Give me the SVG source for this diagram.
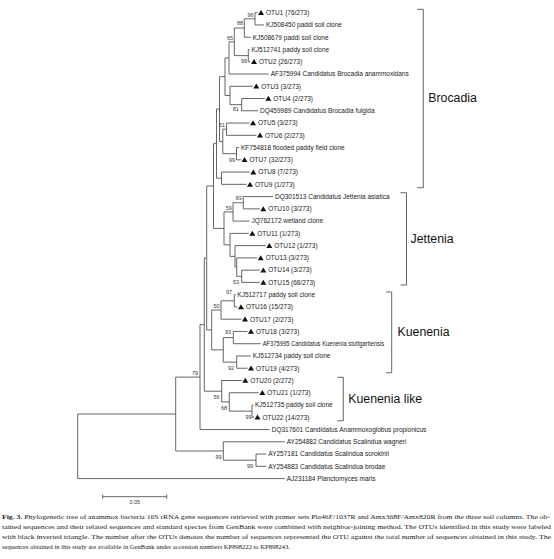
<svg xmlns="http://www.w3.org/2000/svg" width="554" height="559" viewBox="0 0 554 559">
<style>
.br{fill:none;stroke:#555;stroke-width:0.9}
.lf{font-family:"Liberation Sans",Arial,sans-serif;font-size:6.5px;fill:#222}
.bs{font-family:"Liberation Sans",Arial,sans-serif;font-size:5.4px;fill:#333;text-anchor:end}
.cl{font-family:"Liberation Sans",Arial,sans-serif;font-size:12.3px;fill:#111}
.cap{font-family:"Liberation Serif","Times New Roman",serif;font-size:6.7px;fill:#222}
.tri{fill:#111}
</style>
<defs>
<path id="tri" d="M0 -2.7 L3 2.3 L-3 2.3 Z"/>
</defs>
<rect width="554" height="559" fill="#fff"/>
<g id="connectors" class="br">
<path d="M257.5 12.70 H255 V24.96 H264"/>
<path d="M255 18.83 H244.3 V37.22 H250.7"/>
<path d="M249.5 49.48 H248.3 V61.74 H250.5"/>
<path d="M244.3 28.03 H234.3 V55.61 H248.3"/>
<path d="M234.3 41.82 H229 V74.00 H268.7"/>
<path d="M264.8 98.52 H241.7 V110.78 H258"/>
<path d="M252.8 86.26 H230 V104.65 H241.7"/>
<path d="M229 57.91 H225 V95.46 H230"/>
<path d="M249.5 123.04 H226.5 V135.30 H256.5"/>
<path d="M239 147.56 H236.5 V159.82 H241"/>
<path d="M226.5 129.17 H222.8 V153.69 H236.5"/>
<path d="M225 76.69 H219.5 V141.43 H222.8"/>
<path d="M249.8 172.08 H221.5 V184.34 H246.5"/>
<path d="M219.5 109.06 H216.5 V178.21 H221.5"/>
<path d="M273 196.60 H243.3 V208.86 H259.8"/>
<path d="M243.3 202.73 H233 V221.12 H249.5"/>
<path d="M259.8 270.16 H241.7 V282.42 H259.8"/>
<path d="M257.2 257.90 H236.7 V276.29 H241.7"/>
<path d="M265.8 245.64 H235 V267.10 H236.7"/>
<path d="M248.8 233.38 H230 V256.37 H235"/>
<path d="M233 211.93 H224 V244.88 H230"/>
<path d="M216.5 143.64 H213.5 V228.41 H224"/>
<path d="M235.8 294.68 H234.3 V306.94 H237.5"/>
<path d="M234.3 300.81 H221 V319.20 H241.5"/>
<path d="M247.5 331.46 H233.3 V343.72 H260.7"/>
<path d="M250.7 355.98 H236.7 V368.24 H247.5"/>
<path d="M233.3 337.59 H223.3 V362.11 H236.7"/>
<path d="M221 310.01 H211.7 V349.85 H223.3"/>
<path d="M213.5 186.03 H206.7 V329.93 H211.7"/>
<path d="M253.3 405.02 H252 V417.28 H254"/>
<path d="M258.8 392.76 H229.3 V411.15 H252"/>
<path d="M241.8 380.50 H221.7 V401.96 H229.3"/>
<path d="M206.7 257.98 H204.3 V391.23 H221.7"/>
<path d="M204.3 324.61 H200 V429.54 H269.7"/>
<path d="M266.3 454.06 H256 V466.32 H266.3"/>
<path d="M284.7 441.80 H223.3 V460.19 H256"/>
<path d="M200 377.08 H175.7 V451.00 H223.3"/>
<path d="M175.7 414.04 H77.7 V478.58 H284.7"/>
</g>
<g id="bootstrap">
<text class="bs" x="253.5" y="17">96</text>
<text class="bs" x="243" y="25">88</text>
<text class="bs" x="233" y="39.7">65</text>
<text class="bs" x="247" y="63">99</text>
<text class="bs" x="238.8" y="111.3">81</text>
<text class="bs" x="225" y="127">51</text>
<text class="bs" x="235" y="161.5">99</text>
<text class="bs" x="241.7" y="200.3">83</text>
<text class="bs" x="231.7" y="209.7">59</text>
<text class="bs" x="239" y="283.7">53</text>
<text class="bs" x="232" y="294.3">97</text>
<text class="bs" x="219.5" y="307.5">50</text>
<text class="bs" x="231" y="334">93</text>
<text class="bs" x="234" y="369.7">92</text>
<text class="bs" x="198" y="375.3">79</text>
<text class="bs" x="219.5" y="398.7">56</text>
<text class="bs" x="227" y="410.3">68</text>
<text class="bs" x="251.5" y="419.3">99</text>
<text class="bs" x="221.5" y="458.7">99</text>
<text class="bs" x="253" y="468">99</text>
</g>
<g id="leaf-otu1"><use href="#tri" class="tri" x="261" y="12.70"/><text class="lf" x="266" y="15.0">OTU1 (76/273)</text></g>
<g id="leaf-kj508450"><text class="lf" x="266" y="27.26">KJ508450 paddi soil clone</text></g>
<g id="leaf-kj508679"><text class="lf" x="252.7" y="39.52">KJ508679 paddi soil clone</text></g>
<g id="leaf-kj512741"><text class="lf" x="251.5" y="51.78">KJ512741 paddy soil clone</text></g>
<g id="leaf-otu2"><use href="#tri" class="tri" x="254" y="61.74"/><text class="lf" x="259" y="64.04">OTU2 (26/273)</text></g>
<g id="leaf-af375994"><text class="lf" x="270.7" y="76.30">AF375994 Candidatus Brocadia anammoxidans</text></g>
<g id="leaf-otu3"><use href="#tri" class="tri" x="256.3" y="86.26"/><text class="lf" x="261.3" y="88.56">OTU3 (3/273)</text></g>
<g id="leaf-otu4"><use href="#tri" class="tri" x="268.3" y="98.52"/><text class="lf" x="273.3" y="100.82">OTU4 (2/273)</text></g>
<g id="leaf-dq459989"><text class="lf" x="260" y="113.08">DQ459989 Candidatus Brocadia fulgida</text></g>
<g id="leaf-otu5"><use href="#tri" class="tri" x="253" y="123.04"/><text class="lf" x="258" y="125.34">OTU5 (3/273)</text></g>
<g id="leaf-otu6"><use href="#tri" class="tri" x="260" y="135.30"/><text class="lf" x="265" y="137.60">OTU6 (2/273)</text></g>
<g id="leaf-kf754818"><text class="lf" x="241" y="149.86">KF754818 flooded paddy field clone</text></g>
<g id="leaf-otu7"><use href="#tri" class="tri" x="244.5" y="159.82"/><text class="lf" x="249.5" y="162.12">OTU7 (32/273)</text></g>
<g id="leaf-otu8"><use href="#tri" class="tri" x="253.3" y="172.08"/><text class="lf" x="258.3" y="174.38">OTU8 (7/273)</text></g>
<g id="leaf-otu9"><use href="#tri" class="tri" x="250" y="184.34"/><text class="lf" x="255" y="186.64">OTU9 (1/273)</text></g>
<g id="leaf-dq301513"><text class="lf" x="275" y="198.90">DQ301513 Candidatus Jettenia asiatica</text></g>
<g id="leaf-otu10"><use href="#tri" class="tri" x="263.3" y="208.86"/><text class="lf" x="268.3" y="211.16">OTU10 (3/273)</text></g>
<g id="leaf-jq762172"><text class="lf" x="251.5" y="223.42">JQ762172 wetland clone</text></g>
<g id="leaf-otu11"><use href="#tri" class="tri" x="252.3" y="233.38"/><text class="lf" x="257.3" y="235.68">OTU11 (1/273)</text></g>
<g id="leaf-otu12"><use href="#tri" class="tri" x="269.3" y="245.64"/><text class="lf" x="274.3" y="247.94">OTU12 (1/273)</text></g>
<g id="leaf-otu13"><use href="#tri" class="tri" x="260.7" y="257.90"/><text class="lf" x="265.7" y="260.20">OTU13 (3/273)</text></g>
<g id="leaf-otu14"><use href="#tri" class="tri" x="263.3" y="270.16"/><text class="lf" x="268.3" y="272.46">OTU14 (3/273)</text></g>
<g id="leaf-otu15"><use href="#tri" class="tri" x="263.3" y="282.42"/><text class="lf" x="268.3" y="284.72">OTU15 (68/273)</text></g>
<g id="leaf-kj512717"><text class="lf" x="237.3" y="296.98">KJ512717 paddy soil clone</text></g>
<g id="leaf-otu16"><use href="#tri" class="tri" x="241" y="306.94"/><text class="lf" x="246" y="309.24">OTU16 (15/273)</text></g>
<g id="leaf-otu17"><use href="#tri" class="tri" x="245" y="319.20"/><text class="lf" x="250" y="321.50">OTU17 (2/273)</text></g>
<g id="leaf-otu18"><use href="#tri" class="tri" x="251" y="331.46"/><text class="lf" x="256" y="333.76">OTU18 (3/273)</text></g>
<g id="leaf-af375995"><text class="lf" x="262.7" y="346.02" textLength="121.5" lengthAdjust="spacingAndGlyphs">AF375995 Candidatus Kuenenia stuttgartiensis</text></g>
<g id="leaf-kj512734"><text class="lf" x="252.7" y="358.28">KJ512734 paddy soil clone</text></g>
<g id="leaf-otu19"><use href="#tri" class="tri" x="251" y="368.24"/><text class="lf" x="256" y="370.54">OTU19 (4/273)</text></g>
<g id="leaf-otu20"><use href="#tri" class="tri" x="245.3" y="380.50"/><text class="lf" x="250.3" y="382.80">OTU20 (2/272)</text></g>
<g id="leaf-otu21"><use href="#tri" class="tri" x="262.3" y="392.76"/><text class="lf" x="267.3" y="395.06">OTU21 (1/273)</text></g>
<g id="leaf-kj512735"><text class="lf" x="255" y="407.32">KJ512735 paddy soil clone</text></g>
<g id="leaf-otu22"><use href="#tri" class="tri" x="257.5" y="417.28"/><text class="lf" x="262.5" y="419.58">OTU22 (14/273)</text></g>
<g id="leaf-dq317601"><text class="lf" x="271.7" y="431.84">DQ317601 Candidatus Anammoxoglobus propionicus</text></g>
<g id="leaf-ay254882"><text class="lf" x="286.7" y="444.10">AY254882 Candidatus Scalindua wagneri</text></g>
<g id="leaf-ay257181"><text class="lf" x="268.3" y="456.36">AY257181 Candidatus Scalindua sorokinii</text></g>
<g id="leaf-ay254883"><text class="lf" x="268.3" y="468.62">AY254883 Candidatus Scalindua brodae</text></g>
<g id="leaf-aj231184"><text class="lf" x="286.7" y="480.88">AJ231184 Planctomyces maris</text></g>
<g id="clade-brocadia"><path class="br" d="M417.3 9.3 H423.3 V187.7 H417.3"/><text class="cl" x="428.3" y="102">Brocadia</text></g>
<g id="clade-jettenia"><path class="br" d="M400.5 192.7 H406.5 V285 H400.5"/><text class="cl" x="410.5" y="242.7">Jettenia</text></g>
<g id="clade-kuenenia"><path class="br" d="M386 292 H391.7 V372.7 H386"/><text class="cl" x="397.5" y="336">Kuenenia</text></g>
<g id="clade-kuenenia-like"><path class="br" d="M337.5 377.3 H343.3 V420.7 H337.5"/><text class="cl" x="348.3" y="402.7">Kuenenia like</text></g>
<g id="scale-bar"><path class="br" d="M102.7 496.7 H166.7 M102.7 494.6 V498.8 M166.7 494.6 V498.8"/><text class="bs" x="134.7" y="504.3" style="text-anchor:middle">0.05</text></g>
<g id="caption">
<text class="cap" x="2" y="519.2" textLength="548" lengthAdjust="spacingAndGlyphs"><tspan font-weight="bold">Fig. 3.</tspan> Phylogenetic tree of anammox bacteria 16S rRNA gene sequences retrieved with primer sets Pla46F/1037R and Amx368F/Amx820R from the three soil columns. The ob-</text>
<text class="cap" x="2" y="529.2" textLength="549" lengthAdjust="spacingAndGlyphs">tained sequences and their related sequences and standard species from GenBank were combined with neighbor-joining method. The OTUs identified in this study were labeled</text>
<text class="cap" x="2" y="539.2" textLength="549" lengthAdjust="spacingAndGlyphs">with black inverted triangle. The number after the OTUs denotes the number of sequences represented the OTU against the total number of sequences obtained in this study. The</text>
<text class="cap" x="2" y="549.2" textLength="288" lengthAdjust="spacingAndGlyphs">sequences obtained in this study are available in GenBank under accession numbers KP898222 to KP898243.</text>
</g>
</svg>
